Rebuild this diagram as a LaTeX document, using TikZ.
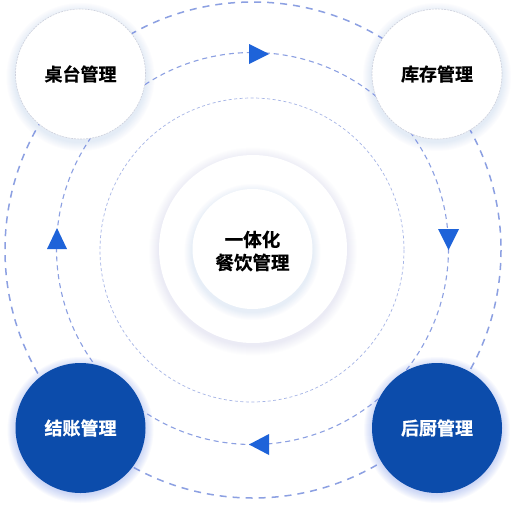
\documentclass[tikz,border=0pt]{standalone}
\usepackage{fontspec}
\newfontfamily\cjk{Noto Sans CJK SC}[BoldFont={* Bold}, BoldFeatures={FakeBold=0.6}]
\definecolor{dashc}{RGB}{140,160,226}
\definecolor{dashl}{RGB}{165,180,230}
\definecolor{arrowc}{RGB}{30,99,217}
\definecolor{nodeb}{RGB}{12,76,171}
\definecolor{glowc}{RGB}{120,150,240}
\definecolor{ringc}{RGB}{205,208,220}
\tikzset{
  outerdash/.style={draw=dashc, line width=1.5pt, dash pattern=on 7pt off 6pt},
  middash/.style={draw=dashc, line width=1.1pt, dash pattern=on 5pt off 4pt},
  innerdash/.style={draw=dashl, line width=0.7pt, dash pattern=on 3pt off 2.5pt},
  whitenode/.style={circle, fill=white, draw=ringc, line width=0.6pt, dash pattern=on 2pt off 1pt, minimum size=130pt, inner sep=0pt, font=\cjk\bfseries\fontsize{18}{20}\selectfont, text=black},
  bluenode/.style={circle, fill=nodeb, minimum size=130pt, inner sep=0pt, font=\cjk\bfseries\fontsize{18}{20}\selectfont, text=white},
  tri/.style={fill=arrowc},
}
\begin{document}
\begin{tikzpicture}[x=1pt,y=-1pt]
\useasboundingbox (0,0) rectangle (516,514);
\fill[white] (0,0) rectangle (516,514);
% dashed rings
\draw[outerdash] (253,250) circle (248);
\draw[middash] (252.5,248.5) circle (196);
\draw[innerdash] (252,250) circle (152);
% center glow
\foreach \i in {1,...,10} {\fill[glowc, opacity=0.012] (253,251.5) circle ({94+\i});}
\fill[white] (253,249) circle (94);
\foreach \i in {1,...,8} {\fill[glowc, opacity=0.02] (252.5,252) circle ({60+\i});}
\fill[white] (252.5,249) circle (60);
\node[font=\cjk\bfseries\fontsize{18.5}{23}\selectfont, align=center, text=black] (center) at (252.5,251) {一体化\\餐饮管理};
% node shadows
\foreach \cx/\cy in {80.5/74, 437/74} {
  \foreach \i in {1,...,9} {\fill[glowc, opacity=0.02] (\cx,\cy+3) circle ({65+\i});}
}
\foreach \cx/\cy in {80.5/428, 437/428} {
  \foreach \i in {1,...,9} {\fill[glowc, opacity=0.045] (\cx,\cy+2) circle ({64+\i});}
}
% nodes
\node[whitenode] (zt) at (80.5,74) {桌台管理};
\node[whitenode] (kc) at (437,74) {库存管理};
\node[bluenode] (jz) at (80.5,428) {结账管理};
\node[bluenode] (hc) at (437,428) {后厨管理};
% arrows on middle ring
\fill[tri] (249,44) -- (249,64) -- (269,54) -- cycle;
\fill[tri] (438,229) -- (459,229) -- (448.5,250) -- cycle;
\fill[tri] (269,434) -- (269,455) -- (249,444.5) -- cycle;
\fill[tri] (47,249) -- (67,249) -- (57,228) -- cycle;
\end{tikzpicture}
\end{document}
